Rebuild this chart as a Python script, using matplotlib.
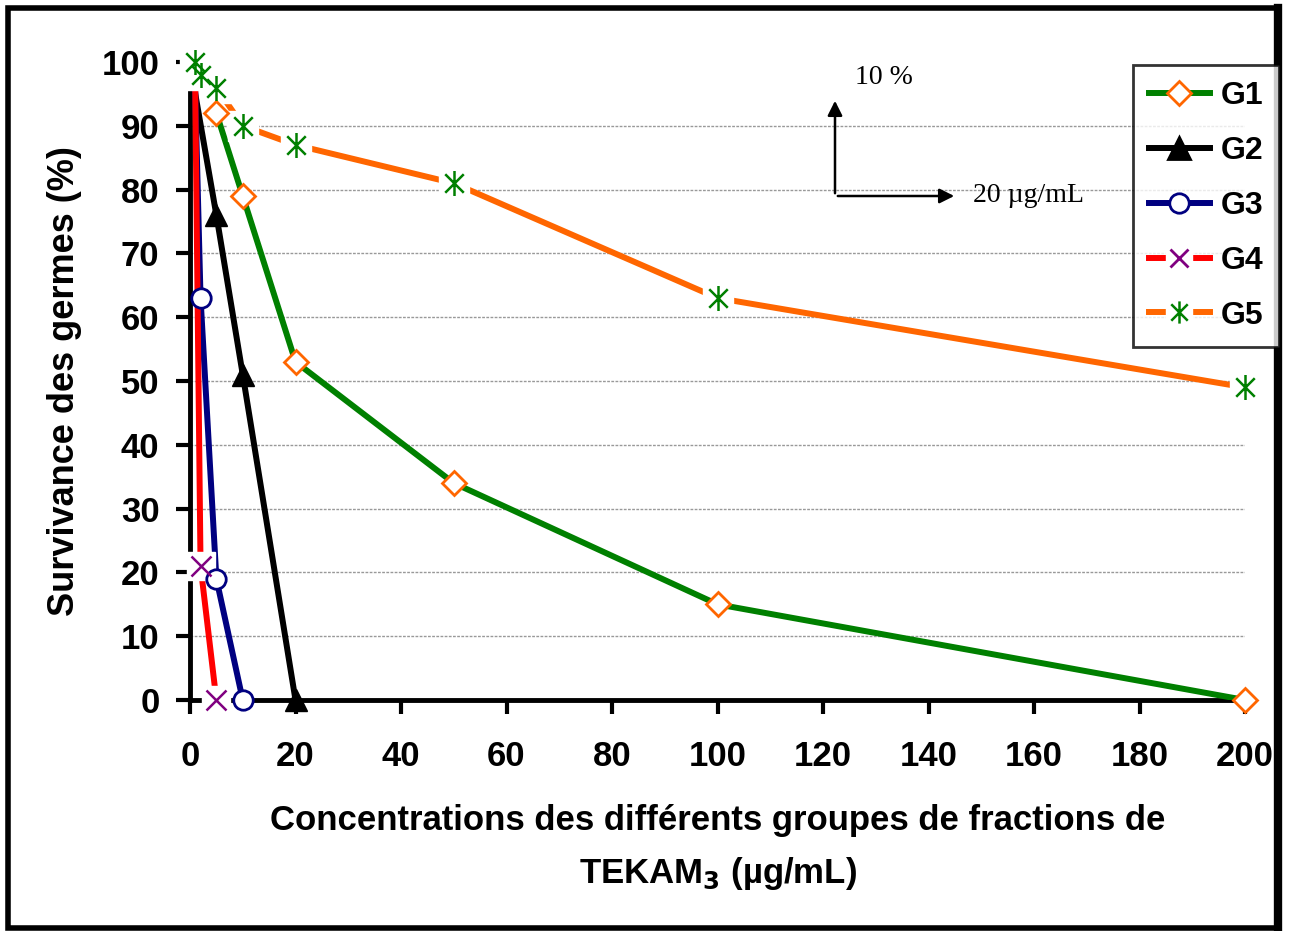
import numpy as np
import matplotlib
matplotlib.use("Agg")
import matplotlib.pyplot as plt
from matplotlib.path import Path
from matplotlib.patches import Rectangle, FancyArrowPatch
from matplotlib.lines import Line2D
from matplotlib.legend_handler import HandlerTuple

plt.rcParams['font.family'] = ['Liberation Sans', 'DejaVu Sans']

# ---- data ----
g1_x = [5, 10, 20, 50, 100, 200]
g1_y = [92, 79, 53, 34, 15, 0]
g2_x = [1, 5, 10, 20]
g2_y = [95, 76, 51, 0]
g3_x = [1, 2, 5, 10]
g3_y = [95, 63, 19, 0]
g4_x = [1, 2, 5]
g4_y = [95, 21, 0]
g5_x = [1, 2, 5, 10, 20, 50, 100, 200]
g5_y = [100, 98, 96, 90, 87, 81, 63, 49]

xticks = np.arange(0, 201, 20)
yticks = np.arange(0, 101, 10)
grid_levels = np.arange(10, 100, 10)

# Excel-like star marker: an X with a vertical bar
star = Path([(-1, -1), (1, 1), (-1, 1), (1, -1), (0, -1.35), (0, 1.35)],
            [Path.MOVETO, Path.LINETO, Path.MOVETO, Path.LINETO, Path.MOVETO, Path.LINETO])

GREEN, ORANGE, NAVY, RED, PURPLE = "#008000", "#FF6600", "#000080", "#FF0000", "#800080"
LW = 4.3

fig = plt.figure(figsize=(12.91, 9.31), dpi=100)
ax = fig.add_axes([190/1291, 231/931, (1245-190)/1291, (700-62)/931])

# G1
ax.plot(g1_x, g1_y, color=GREEN, lw=LW, zorder=3)
ax.plot(g1_x, g1_y, ls="none", marker="D", ms=12, mfc="white", mec=ORANGE, mew=2, zorder=6, clip_on=False)
# G2
ax.plot(g2_x, g2_y, color="black", lw=LW, zorder=3)
ax.plot(g2_x[1:], g2_y[1:], ls="none", marker="^", ms=16, color="black", zorder=6, clip_on=False)
# G3
ax.plot(g3_x, g3_y, color=NAVY, lw=LW, zorder=3)
ax.plot(g3_x[1:], g3_y[1:], ls="none", marker="o", ms=14, mfc="white", mec=NAVY, mew=2, zorder=6, clip_on=False)
# G4
ax.plot(g4_x, g4_y, color=RED, lw=LW, zorder=3)
ax.plot(g4_x[1:], g4_y[1:], ls="none", marker="s", ms=20, color="white", zorder=5, clip_on=False)
ax.plot(g4_x[1:], g4_y[1:], ls="none", marker="x", ms=15, mec=PURPLE, mew=1.8, zorder=6, clip_on=False)
# G5
ax.plot(g5_x, g5_y, color=ORANGE, lw=LW, zorder=2)
ax.plot(g5_x, g5_y, ls="none", marker="s", ms=22, color="white", zorder=5, clip_on=False)
ax.plot(g5_x, g5_y, ls="none", marker=star, ms=18, mec=GREEN, mfc="none", mew=1.8, zorder=6, clip_on=False)

ax.set_xlim(0, 200)
ax.set_ylim(0, 100)
ax.set_xticks(xticks)
ax.set_yticks(yticks)
ax.tick_params(labelsize=25, width=3, length=10, direction="out")
ax.tick_params(axis="x", pad=19)
ax.tick_params(axis="y", pad=12)
for lab in ax.get_xticklabels() + ax.get_yticklabels():
    lab.set_fontweight("bold")
for s in ("top", "right"):
    ax.spines[s].set_visible(False)
for s in ("left", "bottom"):
    ax.spines[s].set_linewidth(3.5)
for g in grid_levels:
    ax.axhline(g, ls=(0, (2, 1)), color="#999999", lw=1, zorder=1)

ax.set_ylabel("Survivance des germes (%)", fontsize=26, fontweight="bold", labelpad=14)
ax.set_xlabel("Concentrations des différents groupes de fractions de\nTEKAM$_\\mathbf{3}$ (µg/mL)",
              fontsize=25, fontweight="bold", labelpad=22, linespacing=1.65)

# scale arrows
ax_fig = fig.transFigure
x0, y0 = 835/1291, 1 - 196/931
fig.add_artist(FancyArrowPatch((x0, y0), (x0, 1 - 98/931), transform=ax_fig,
               arrowstyle="-|>", mutation_scale=22, color="black", lw=1.8))
fig.add_artist(FancyArrowPatch((x0, y0), (957/1291, y0), transform=ax_fig,
               arrowstyle="-|>", mutation_scale=22, color="black", lw=1.8))
fig.text(855/1291, 1 - 78/931, "10 %", fontsize=20, family="Liberation Serif", va="center")
fig.text(973/1291, 1 - 196/931, "20 µg/mL", fontsize=20, family="Liberation Serif", va="center")

# legend
def handle(color, marker, ms, mfc, mec, bg=False):
    line = Line2D([], [], color=color, lw=LW)
    mk = Line2D([], [], ls="none", marker=marker, ms=ms, mfc=mfc, mec=mec, mew=2 if marker != star else 1.8)
    if bg:
        wb = Line2D([], [], ls="none", marker="s", ms=19, color="white")
        return (line, wb, mk)
    return (line, mk)

handles = [
    handle(GREEN, "D", 12, "white", ORANGE),
    handle("black", "^", 16, "black", "black"),
    handle(NAVY, "o", 14, "white", NAVY),
    handle(RED, "x", 13, "none", PURPLE, bg=True),
    handle(ORANGE, star, 16, "none", GREEN, bg=True),
]
leg = fig.legend(handles, ["G1", "G2", "G3", "G4", "G5"], handler_map={tuple: HandlerTuple(ndivide=1)},
                 loc="upper left", bbox_to_anchor=(1133/1291, 1 - 65/931), frameon=True, fancybox=False,
                 edgecolor="black", prop={"size": 23, "weight": "bold"}, handlelength=1.9,
                 labelspacing=0.78, borderpad=0.5, handletextpad=0.35, borderaxespad=0)
leg.get_frame().set_linewidth(2)

# outer border (right side drawn heavier, as in the original)
fig.add_artist(Rectangle((8/1291, 3/931), (1278-8)/1291, (923-3)/931, transform=ax_fig,
                         fill=False, lw=4, edgecolor="black"))
fig.add_artist(Line2D([1278/1291, 1278/1291], [3/931, 923/931], transform=ax_fig, lw=6, color="black"))

fig.savefig("out.png", dpi=100)
